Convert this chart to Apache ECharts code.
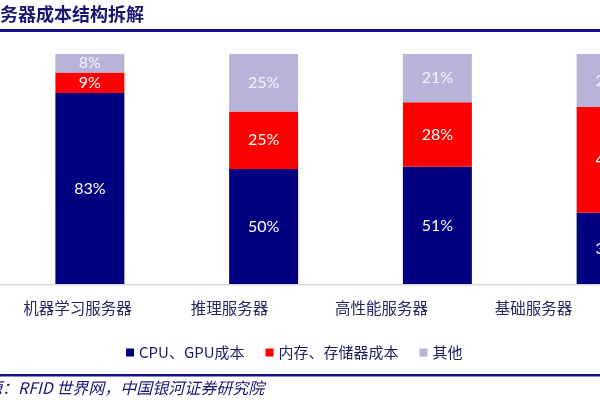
<!DOCTYPE html>
<html><head><meta charset="utf-8">
<script src="https://cdn.jsdelivr.net/npm/echarts@6/dist/echarts.min.js"></script>
<style>html,body{margin:0;padding:0;background:#fff}#c{width:600px;height:400px}</style>
</head><body><div id="c"></div>
<script>
const categories = ['机器学习服务器', '推理服务器', '高性能服务器', '基础服务器'];
const seriesNames = ['CPU、GPU成本', '内存、存储器成本', '其他'];
const cpuGpu = [83, 50, 51, 31];
const memory = [9, 25, 28, 46];
const other = [8, 25, 21, 23];
const titleText = '务器成本结构拆解';
const sourceText = '资料来源：RFID 世界网，中国银河证券研究院';

const colors = ['#000080', '#ff0000', '#b7b3d9'];
const chart = echarts.init(document.getElementById('c'), null, {renderer: 'canvas'});
const cjk = "'Noto Sans CJK SC', sans-serif";
const mk = (name, data, i) => ({
  name, type: 'bar', stack: 'total', data, barWidth: 69,
  xAxisIndex: 0, yAxisIndex: 0,
  itemStyle: {color: colors[i]},
  label: {show: true, position: 'inside', formatter: '{c}%', color: i === 2 ? '#f4f4f8' : '#ffffff',
          fontSize: 16, fontFamily: 'Lato, sans-serif'}
});
chart.setOption({
  animation: false,
  grid: [
    {left: 3, top: 54, width: 695, bottom: 116, outerBoundsMode: 'none', containLabel: false},
    {left: 1.5, top: 54, width: 608, bottom: 116, outerBoundsMode: 'none', containLabel: false}
  ],
  xAxis: [
    {type: 'category', data: categories, gridIndex: 0,
     axisLine: {show: false}, axisTick: {show: false}, axisLabel: {show: false}},
    {type: 'category', data: categories, gridIndex: 1,
     axisLine: {show: false}, axisTick: {show: false},
     axisLabel: {margin: 16, fontSize: 15.5, color: '#262663', fontFamily: cjk}}
  ],
  yAxis: [
    {type: 'value', min: 0, max: 100, gridIndex: 0, show: false},
    {type: 'value', min: 0, max: 100, gridIndex: 1, show: false}
  ],
  legend: {
    left: 121, top: 340, icon: 'rect', itemWidth: 8, itemHeight: 8, itemGap: 21,
    data: seriesNames,
    textStyle: {fontSize: 15, color: '#1c1c5c', fontFamily: "'Liberation Sans Narrow', 'Noto Sans CJK SC', sans-serif"}
  },
  series: [mk(seriesNames[0], cpuGpu, 0), mk(seriesNames[1], memory, 1), mk(seriesNames[2], other, 2)],
  graphic: [
    {type: 'rect', left: 0, top: 284, shape: {width: 600, height: 1.5}, style: {fill: '#d9d9d9'}, z: 100},
    {type: 'rect', left: 0, top: 29, shape: {width: 600, height: 3}, style: {fill: '#12108a'}},
    {type: 'rect', left: 0, top: 374, shape: {width: 600, height: 2.5}, style: {fill: '#12108a'}},
    {type: 'text', x: 0, y: 5, style: {text: titleText, font: "bold 18px 'Noto Sans CJK SC', sans-serif", fill: '#1a1670'}},
    {type: 'text', x: -62, y: 380, style: {text: sourceText, font: "italic 16px 'Noto Sans CJK SC', sans-serif", fill: '#1a1670'}}
  ]
});
</script></body></html>
